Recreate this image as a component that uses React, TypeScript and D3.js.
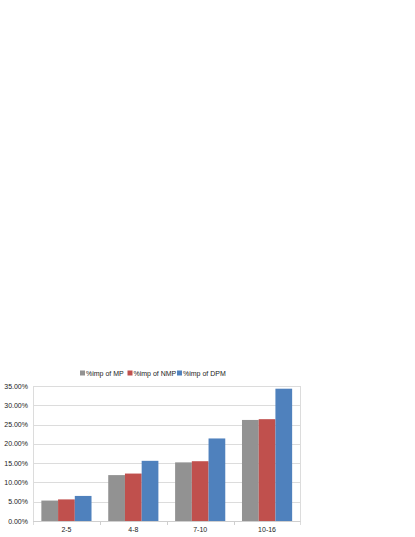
import { useRef, useEffect } from 'react';
import * as d3 from 'd3';

const categories = ['2-5', '4-8', '7-10', '10-16'];
const seriesNames = ['%imp of MP', '%imp of NMP', '%imp of DPM'];
const mpValues = [5.3, 11.9, 15.2, 26.2];
const nmpValues = [5.6, 12.3, 15.5, 26.4];
const dpmValues = [6.5, 15.6, 21.4, 34.3];
const yTicks = [0, 5, 10, 15, 20, 25, 30, 35];
const colors = ['#929292', '#c0504d', '#4f81bd'];

export default function App() {
  const svgRef = useRef<SVGSVGElement>(null);

  useEffect(() => {
    const w = 415;
    const h = 537;
    const svg = d3.select(svgRef.current);
    svg.selectAll('*').remove();
    svg.attr('width', w).attr('height', h);

    const left = 33;
    const right = 300.5;
    const top = 386;
    const bottom = 521;
    const font = 'Liberation Sans, Arial, sans-serif';

    const xScale = d3.scaleBand().domain(categories).range([left, right]).padding(0);
    const inner = d3
      .scaleBand()
      .domain(seriesNames)
      .range([0, xScale.bandwidth()])
      .paddingOuter(0.5)
      .paddingInner(0);
    const yScale = d3.scaleLinear().domain([0, 35]).range([bottom, top]);

    // gridlines
    svg
      .append('g')
      .selectAll('line')
      .data(yTicks)
      .enter()
      .append('line')
      .attr('x1', left)
      .attr('x2', right)
      .attr('y1', (d) => Math.round(yScale(d)) + 0.5)
      .attr('y2', (d) => Math.round(yScale(d)) + 0.5)
      .attr('stroke', '#dcdcdc')
      .attr('stroke-width', 1);

    // y axis labels
    svg
      .append('g')
      .selectAll('text')
      .data(yTicks)
      .enter()
      .append('text')
      .attr('x', 28)
      .attr('y', (d) => yScale(d) + 2.5)
      .attr('text-anchor', 'end')
      .attr('font-family', font)
      .attr('font-size', 7)
      .attr('fill', '#222')
      .text((d) => d.toFixed(2) + '%');

    // bars
    const series = [mpValues, nmpValues, dpmValues];
    series.forEach((vals, si) => {
      svg
        .append('g')
        .selectAll('rect')
        .data(vals)
        .enter()
        .append('rect')
        .attr('x', (d, i) => (xScale(categories[i]) as number) + (inner(seriesNames[si]) as number))
        .attr('y', (d) => yScale(d))
        .attr('width', inner.bandwidth())
        .attr('height', (d) => bottom - yScale(d))
        .attr('fill', colors[si]);
    });

    // axis lines
    svg
      .append('line')
      .attr('x1', left + 0.5)
      .attr('x2', left + 0.5)
      .attr('y1', top)
      .attr('y2', bottom + 4)
      .attr('stroke', '#dcdcdc');
    svg
      .append('line')
      .attr('x1', right)
      .attr('x2', right)
      .attr('y1', top)
      .attr('y2', bottom + 4)
      .attr('stroke', '#dcdcdc');
    svg
      .append('line')
      .attr('x1', left)
      .attr('x2', right)
      .attr('y1', bottom + 0.5)
      .attr('y2', bottom + 0.5)
      .attr('stroke', '#cfcfcf');

    // x ticks between categories
    svg
      .append('g')
      .selectAll('line')
      .data(categories.slice(1))
      .enter()
      .append('line')
      .attr('x1', (d) => Math.round(xScale(d) as number) + 0.5)
      .attr('x2', (d) => Math.round(xScale(d) as number) + 0.5)
      .attr('y1', bottom)
      .attr('y2', bottom + 4)
      .attr('stroke', '#cfcfcf');

    // x labels
    svg
      .append('g')
      .selectAll('text')
      .data(categories)
      .enter()
      .append('text')
      .attr('x', (d) => (xScale(d) as number) + xScale.bandwidth() / 2)
      .attr('y', 532)
      .attr('text-anchor', 'middle')
      .attr('font-family', font)
      .attr('font-size', 7)
      .attr('fill', '#222')
      .text((d) => d);

    // legend
    const legendX = [80, 127.5, 177];
    const legend = svg
      .append('g')
      .selectAll('g')
      .data(seriesNames)
      .enter()
      .append('g')
      .attr('transform', (d, i) => `translate(${legendX[i]}, 373)`);
    legend
      .append('rect')
      .attr('x', 0)
      .attr('y', -2.5)
      .attr('width', 5)
      .attr('height', 5)
      .attr('fill', (d, i) => colors[i]);
    legend
      .append('text')
      .attr('x', 6)
      .attr('y', 2.5)
      .attr('font-family', font)
      .attr('font-size', 7)
      .attr('fill', '#222')
      .text((d) => d);
  }, []);

  return <svg ref={svgRef} style={{ position: 'absolute', left: 0, top: 0 }}></svg>;
}
